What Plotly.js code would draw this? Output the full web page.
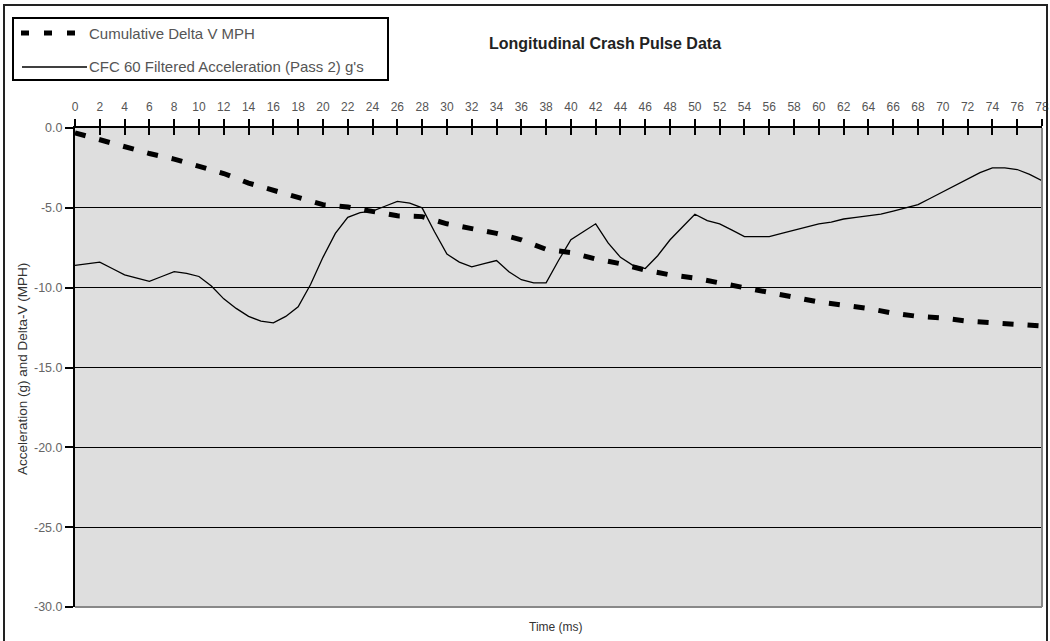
<!DOCTYPE html>
<html>
<head>
<meta charset="utf-8">
<script src="https://cdn.plot.ly/plotly-3.0.1.min.js"></script>
<style>html,body{margin:0;padding:0;background:#fff;}#chart{width:1050px;height:641px;}</style>
</head>
<body>
<div id="chart"></div>
<script>
// Time (ms) for the filtered acceleration trace
const timeAccel = [0,1,2,3,4,5,6,7,8,9,10,11,12,13,14,15,16,17,18,19,20,21,22,23,24,25,26,27,28,29,30,31,32,33,34,35,36,37,38,39,40,41,42,43,44,45,46,47,48,49,50,51,52,53,54,55,56,57,58,59,60,61,62,63,64,65,66,67,68,69,70,71,72,73,74,75,76,77,78];
// CFC 60 Filtered Acceleration (Pass 2) g's
const accel = [-8.6,-8.5,-8.4,-8.8,-9.2,-9.4,-9.6,-9.3,-9.0,-9.1,-9.3,-9.9,-10.7,-11.3,-11.8,-12.1,-12.2,-11.8,-11.2,-9.8,-8.1,-6.6,-5.6,-5.3,-5.2,-4.9,-4.6,-4.7,-5.0,-6.5,-7.9,-8.4,-8.7,-8.5,-8.3,-9.0,-9.5,-9.7,-9.7,-8.3,-7.0,-6.5,-6.0,-7.2,-8.1,-8.6,-8.8,-8.0,-7.0,-6.2,-5.4,-5.8,-6.0,-6.4,-6.8,-6.8,-6.8,-6.6,-6.4,-6.2,-6.0,-5.9,-5.7,-5.6,-5.5,-5.4,-5.2,-5.0,-4.8,-4.4,-4.0,-3.6,-3.2,-2.8,-2.5,-2.5,-2.6,-2.9,-3.3];
// Time (ms) for cumulative delta-V
const timeDV = [0,2,4,6,8,10,12,14,16,18,20,22,24,26,28,30,32,34,36,38,40,42,44,46,48,50,52,54,56,58,60,62,64,66,68,70,72,74,76,78];
// Cumulative Delta V MPH
const deltaV = [-0.3,-0.75,-1.2,-1.6,-1.95,-2.4,-2.85,-3.45,-3.9,-4.4,-4.8,-4.95,-5.2,-5.5,-5.55,-6.0,-6.3,-6.6,-7.0,-7.6,-7.8,-8.2,-8.5,-8.9,-9.2,-9.4,-9.7,-10.0,-10.3,-10.6,-10.9,-11.1,-11.3,-11.6,-11.8,-11.9,-12.1,-12.2,-12.3,-12.4];
// Tick values
const xTicks = [0,2,4,6,8,10,12,14,16,18,20,22,24,26,28,30,32,34,36,38,40,42,44,46,48,50,52,54,56,58,60,62,64,66,68,70,72,74,76,78];
const yTicks = [0,-5,-10,-15,-20,-25,-30];
const legendLabels = ["Cumulative Delta V MPH", "CFC 60 Filtered Acceleration (Pass 2) g's"];

const W = 1050, H = 641, L = 75, R = 8, T = 128, B = 34;
const pw = W - L - R, ph = H - T - B;
const px = p => (p - L) / pw;
const py = q => (H - B - q) / ph;

const traces = [
  {x: timeDV, y: deltaV, mode: 'lines', name: legendLabels[0],
   line: {color: '#000', width: 5, dash: '11px,14px'}, hoverinfo: 'x+y'},
  {x: timeAccel, y: accel, mode: 'lines', name: legendLabels[1],
   line: {color: '#000', width: 1.3}, hoverinfo: 'x+y'},
  // second overlaid axis to give ticks that cross the top axis line
  {x: [0], y: [0], xaxis: 'x2', mode: 'markers', marker: {opacity: 0}, hoverinfo: 'skip', showlegend: false}
];

const font = 'Liberation Sans, Arial, sans-serif';
const layout = {
  width: W, height: H,
  margin: {l: L, r: R, t: T, b: B},
  paper_bgcolor: '#fff', plot_bgcolor: '#dedede',
  showlegend: false,
  font: {family: font, color: '#555'},
  xaxis: {
    range: [0, 78], side: 'top', tickvals: xTicks, ticktext: xTicks.map(String),
    ticks: 'outside', ticklen: 7, tickwidth: 2, tickcolor: '#000',
    showline: true, linecolor: '#000', linewidth: 2, showgrid: false, zeroline: false,
    tickfont: {size: 12, color: '#555', family: font}, ticklabelstandoff: 3
  },
  xaxis2: {
    range: [0, 78], overlaying: 'x', side: 'top', tickvals: xTicks,
    ticks: 'inside', ticklen: 7, tickwidth: 2, tickcolor: '#000',
    showticklabels: false, showgrid: false, zeroline: false, showline: false
  },
  yaxis: {
    range: [-30, 0], tickvals: yTicks, ticktext: yTicks.map(v => v.toFixed(1)),
    ticks: 'outside', ticklen: 8, tickwidth: 2, tickcolor: '#000',
    showline: true, linecolor: '#000', linewidth: 2,
    showgrid: true, gridcolor: '#000', gridwidth: 1.3, zeroline: false,
    tickfont: {size: 12.5, color: '#666', family: font}
  },
  shapes: [
    // right and bottom plot border
    {type: 'line', xref: 'paper', yref: 'paper', x0: 1, x1: 1, y0: 0, y1: 1, line: {color: '#888', width: 2}},
    {type: 'line', xref: 'paper', yref: 'paper', x0: 0, x1: 1, y0: 0, y1: 0, line: {color: '#888', width: 2}},
    // outer chart border
    {type: 'rect', xref: 'paper', yref: 'paper', x0: px(4), x1: px(1047), y0: py(660), y1: py(5), line: {color: '#222', width: 2}},
    // legend box
    {type: 'rect', xref: 'paper', yref: 'paper', x0: px(13), x1: px(388), y0: py(80), y1: py(18), line: {color: '#000', width: 2}, fillcolor: '#fff'},
    {type: 'line', xref: 'paper', yref: 'paper', x0: px(21), x1: px(76), y0: py(33), y1: py(33), line: {color: '#000', width: 5, dash: '8px,15px'}},
    {type: 'line', xref: 'paper', yref: 'paper', x0: px(22), x1: px(87), y0: py(67), y1: py(67), line: {color: '#000', width: 1.3}}
  ],
  annotations: [
    {xref: 'paper', yref: 'paper', x: px(87), y: py(33), xanchor: 'left', yanchor: 'middle', showarrow: false,
     text: legendLabels[0], font: {size: 15, color: '#555', family: font}},
    {xref: 'paper', yref: 'paper', x: px(87), y: py(67), xanchor: 'left', yanchor: 'middle', showarrow: false,
     text: legendLabels[1], font: {size: 15, color: '#555', family: font}},
    {xref: 'paper', yref: 'paper', x: px(605), y: py(43), xanchor: 'center', yanchor: 'middle', showarrow: false,
     text: '<b>Longitudinal Crash Pulse Data</b>', font: {size: 16, color: '#222', family: font}},
    {xref: 'paper', yref: 'paper', x: px(22), y: py(369), xanchor: 'center', yanchor: 'middle', showarrow: false, textangle: -90,
     text: 'Acceleration (g) and Delta-V (MPH)', font: {size: 13.5, color: '#333', family: font}},
    {xref: 'paper', yref: 'paper', x: px(556), y: py(627), xanchor: 'center', yanchor: 'middle', showarrow: false,
     text: 'Time (ms)', font: {size: 12, color: '#333', family: font}}
  ]
};

Plotly.newPlot('chart', traces, layout, {staticPlot: true, displayModeBar: false});
</script>
</body>
</html>
